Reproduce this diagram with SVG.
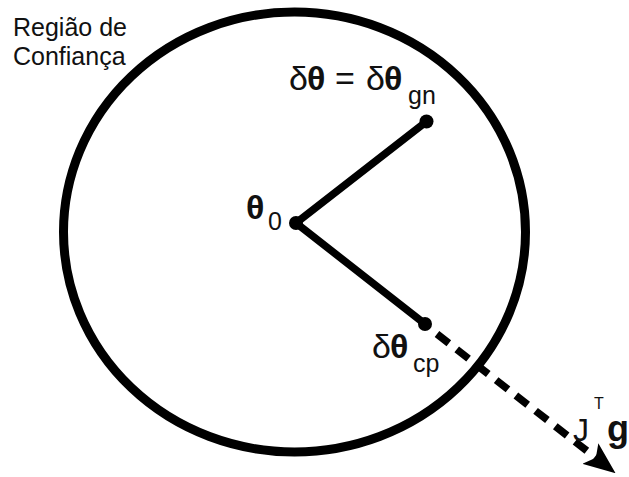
<svg xmlns="http://www.w3.org/2000/svg" width="629" height="477" viewBox="0 0 629 477">
<defs>
<style>
.t{font-family:"Liberation Sans",Arial,sans-serif;fill:#111}
.b{font-weight:bold}
.ln{stroke:#000;stroke-width:7.5;stroke-linecap:round;fill:none}
.dot{fill:#000}
</style>
<marker id="arr" viewBox="0 0 32 26" refX="30" refY="13" markerWidth="32" markerHeight="26" orient="auto" markerUnits="userSpaceOnUse">
<path d="M0,0 L32,13 L0,26 L7,13 Z" fill="#000"/>
</marker>
</defs>
<rect width="629" height="477" fill="#fff"/>
<g id="region">
<ellipse cx="294.5" cy="232" rx="231" ry="220" fill="none" stroke="#000" stroke-width="9"/>
<text class="t" x="13" y="36" font-size="25">Região de</text>
<text class="t" x="13" y="65" font-size="25">Confiança</text>
</g>
<g id="connectors">
<line class="ln" x1="296" y1="223" x2="426.5" y2="121.5"/>
<line class="ln" x1="296" y1="223" x2="425" y2="324"/>
<line x1="437" y1="334" x2="614" y2="472" stroke="#000" stroke-width="7.5" stroke-dasharray="15,10" marker-end="url(#arr)"/>
</g>
<g id="theta0">
<circle class="dot" cx="296" cy="223" r="7"/>
<text class="t" x="246" y="219" font-size="34"><tspan class="b">θ</tspan><tspan font-size="25" x="268" y="230">0</tspan></text>
</g>
<g id="gn">
<circle class="dot" cx="426.5" cy="121.5" r="7"/>
<text class="t" y="90" font-size="34"><tspan x="289">δ</tspan><tspan class="b" x="307">θ</tspan><tspan x="335">=</tspan><tspan x="366">δ</tspan><tspan class="b" x="384">θ</tspan><tspan font-size="25" x="408" y="104">gn</tspan></text>
</g>
<g id="cp">
<circle class="dot" cx="425" cy="324" r="7"/>
<text class="t" y="358" font-size="34"><tspan x="372">δ</tspan><tspan class="b" x="390">θ</tspan><tspan font-size="25" x="413" y="372">cp</tspan></text>
</g>
<g id="jtg">
<text class="t" y="441" font-size="32"><tspan x="573">J</tspan><tspan font-size="16" x="594" y="409">T</tspan><tspan class="b" font-size="36" x="607" y="441">g</tspan></text>
</g>
</svg>
